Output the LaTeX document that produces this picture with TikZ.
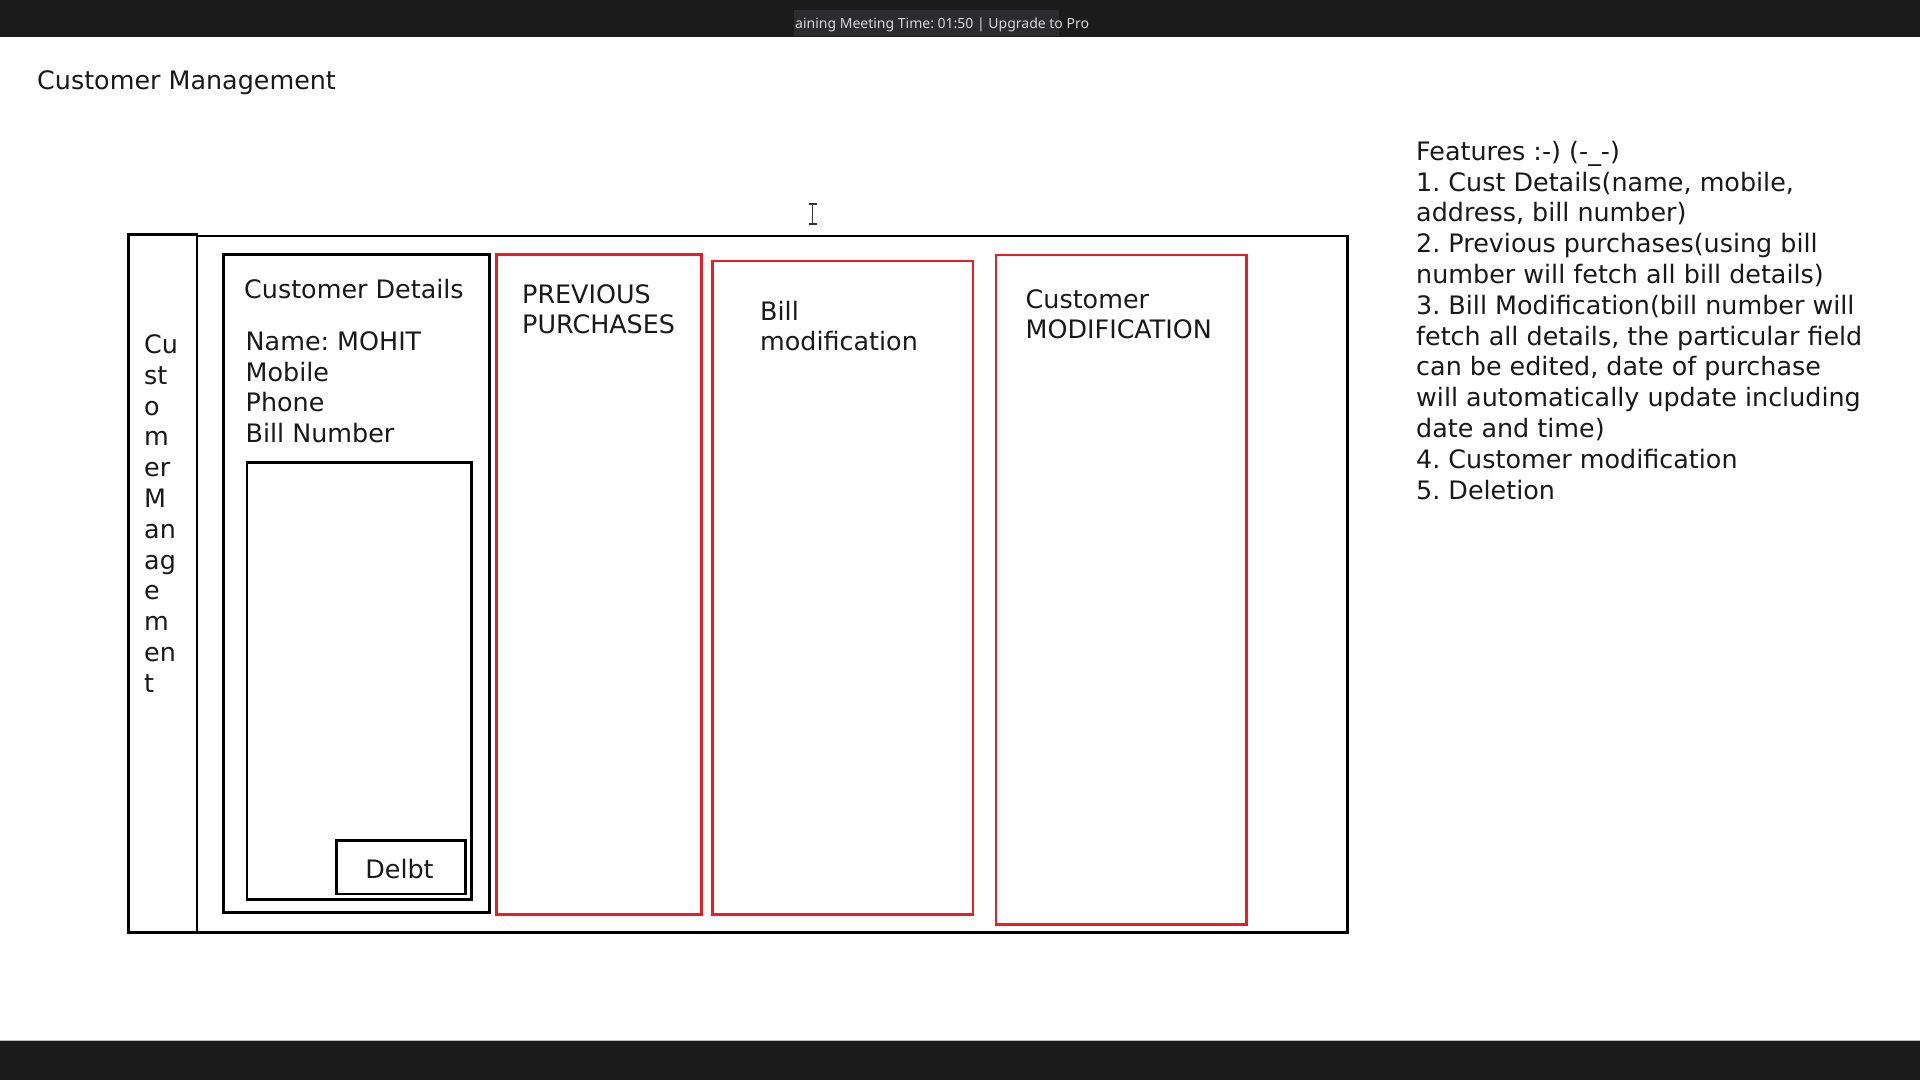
\documentclass[tikz,border=0pt]{standalone}
\usepackage{fontspec}
\setmainfont{DejaVu Sans}
\newfontfamily\barfont{Noto Sans}
\frenchspacing
\definecolor{barbg}{HTML}{1B1B1B}
\definecolor{tagbg}{HTML}{2C2C2E}
\definecolor{tagtxt}{HTML}{D8D8D8}
\definecolor{paintred}{HTML}{ED1C24}
\definecolor{edgegrey}{HTML}{BDBDBD}
\newcommand\mystrut{\rule{0pt}{20pt}}
\tikzset{
  blackbox/.style={draw=black, line width=2.8pt},
  redbox/.style={draw=paintred, line width=2.6pt},
  txt/.style={anchor=north west, inner sep=0pt, align=left, font={\fontsize{25.4}{30.8}\selectfont}, text=black!90},
}
\begin{document}
\begin{tikzpicture}[x=1pt,y=-1pt]
\useasboundingbox (0,0) rectangle (1920,1080);
\fill[white] (0,0) rectangle (1920,1080);
% top bar
\fill[barbg] (0,0) rectangle (1920,36.7);
\fill[tagbg] (794,10) rectangle (1059,36);
\node[anchor=base west, inner sep=0pt, font={\barfont\fontsize{14}{17}\selectfont}, text=tagtxt] (bartext) at (795,28.3) {aining Meeting Time: 01:50 | Upgrade to Pro};
% bottom bar
\fill[barbg] (0,1041) rectangle (1920,1080);
\draw[edgegrey, line width=1pt] (0,1040.5) -- (1920,1040.5);

% title
\node[txt] (title) at (37,69) {\mystrut Customer Management};

% features
\node[txt] (features) at (1416,140) {\mystrut Features :-) (-\_-)\\
1. Cust Details(name, mobile,\\
address, bill number)\\
2. Previous purchases(using bill\\
number will fetch all bill details)\\
3. Bill Modification(bill number will\\
fetch all details, the particular field\\
can be edited, date of purchase\\
will automatically update including\\
date and time)\\
4. Customer modification\\
5. Deletion};

% cursor
\draw[black!80, line width=1.3pt] (812.7,204) -- (812.7,224);
\draw[black!80, line width=1.3pt] (809,204) -- (816.5,204);
\draw[black!80, line width=1.3pt] (809,224) -- (816.5,224);

% outer frame
\draw[blackbox] (197,236) rectangle (1347.7,932.3);
\draw[blackbox] (128.4,234.4) rectangle (197,932.3);
\node[txt] (sidelabel) at (144,333.3) {\mystrut Cu\\st\\o\\m\\er\\M\\an\\ag\\e\\m\\en\\t};

% customer details
\draw[blackbox] (223.3,254.7) rectangle (489.3,912.3);
\node[txt] (detailshead) at (244,278.3) {\mystrut Customer Details};
\node[txt] (fields) at (245.5,330) {\mystrut Name: MOHIT\\Mobile\\Phone\\Bill Number};
\draw[blackbox] (247,462.7) rectangle (471.3,899.3);
\draw[blackbox] (336.7,840.3) rectangle (465.3,894);
\node[anchor=base, inner sep=0pt, font={\fontsize{25.4}{30.8}\selectfont}, text=black!90] (delbt) at (399.5,878.3) {Delbt};

% red panels
\draw[redbox] (496.7,254.3) rectangle (701.5,914.3);
\node[txt] (prevtxt) at (522,283.3) {\mystrut PREVIOUS\\[-0.8pt]PURCHASES};
\draw[redbox] (712.3,261) rectangle (973,914.3);
\node[txt] (billtxt) at (760,300) {\mystrut Bill\\[-0.8pt]modification};
\draw[redbox] (996,255) rectangle (1246.7,924.3);
\node[txt] (custmodtxt) at (1025.5,288.3) {\mystrut Customer\\[-0.8pt]MODIFICATION};
\end{tikzpicture}
\end{document}
